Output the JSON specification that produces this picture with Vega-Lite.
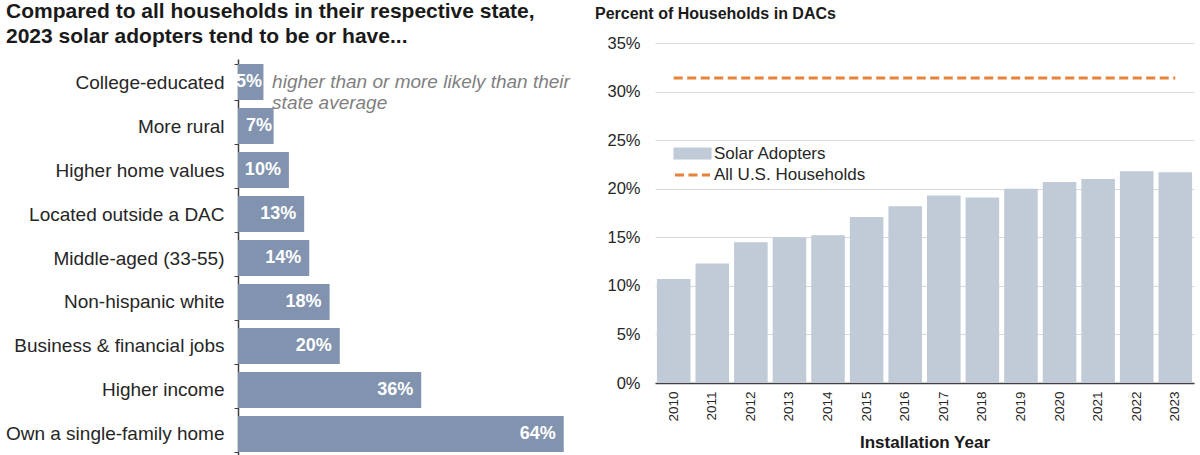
{
  "$schema": "https://vega.github.io/schema/vega-lite/v6.json",
  "background": "white",
  "padding": {"left": 5, "top": 1, "right": 5, "bottom": 0},
  "config": {"font": "Liberation Sans", "view": {"stroke": null}},
  "spacing": 16,
  "hconcat": [
    {
      "width": 341,
      "height": 414,
      "title": {
        "text": ["Compared to all households in their respective state,", "2023 solar adopters tend to be or have..."],
        "font": "Liberation Sans Narrow, Liberation Sans",
        "fontSize": 21,
        "fontWeight": "bold",
        "color": "#1a1a1a",
        "anchor": "start",
        "frame": "group",
        "dx": -232,
        "offset": -13,
        "lineHeight": 25
      },
      "layer": [
        {
          "data": {"values": [
            {"trait": "College-educated", "pct": 0.05},
            {"trait": "More rural", "pct": 0.07},
            {"trait": "Higher home values", "pct": 0.10},
            {"trait": "Located outside a DAC", "pct": 0.13},
            {"trait": "Middle-aged (33-55)", "pct": 0.14},
            {"trait": "Non-hispanic white", "pct": 0.18},
            {"trait": "Business & financial jobs", "pct": 0.20},
            {"trait": "Higher income", "pct": 0.36},
            {"trait": "Own a single-family home", "pct": 0.64}
          ]},
          "layer": [
            {
              "mark": {"type": "bar", "color": "#8193AE"},
              "encoding": {
                "y": {"field": "trait", "type": "nominal",
                  "scale": {"domain": ["College-educated","More rural","Higher home values","Located outside a DAC","Middle-aged (33-55)","Non-hispanic white","Business & financial jobs","Higher income","Own a single-family home"], "range": [16, 414], "paddingInner": 0.18, "paddingOuter": 0.114},
                  "axis": {"title": null, "labelFontSize": 19, "labelLimit": 0, "labelColor": "#262626", "domainColor": "#404040", "domainWidth": 1.5, "tickColor": "#404040", "tickBand": "extent", "tickSize": 4, "labelPadding": 10}},
                "x": {"field": "pct", "type": "quantitative", "scale": {"domain": [0, 0.67], "nice": false}, "axis": null}
              }
            },
            {
              "transform": [{"filter": "datum.pct >= 0.08"}],
              "mark": {"type": "text", "align": "right", "baseline": "middle", "dx": -8, "color": "white", "fontWeight": "bold", "fontSize": 18},
              "encoding": {
                "y": {"field": "trait", "type": "nominal"},
                "x": {"field": "pct", "type": "quantitative"},
                "text": {"field": "pct", "type": "quantitative", "format": ".0%"}
              }
            },
            {
              "transform": [{"filter": "datum.pct < 0.08"}],
              "mark": {"type": "text", "align": "right", "baseline": "middle", "dx": -1.5, "color": "white", "fontWeight": "bold", "fontSize": 18},
              "encoding": {
                "y": {"field": "trait", "type": "nominal"},
                "x": {"field": "pct", "type": "quantitative"},
                "text": {"field": "pct", "type": "quantitative", "format": ".0%"}
              }
            }
          ]
        },
        {
          "data": {"values": [{"trait": "College-educated", "pct": 0.067, "note": "higher than or more likely than their\nstate average"}]},
          "mark": {"type": "text", "align": "left", "baseline": "middle", "fontStyle": "italic", "fontSize": 19, "color": "#7f7f7f", "lineBreak": "\n", "lineHeight": 21},
          "encoding": {
            "y": {"field": "trait", "type": "nominal"},
            "x": {"field": "pct", "type": "quantitative"},
            "text": {"field": "note"}
          }
        }
      ]
    },
    {
      "width": 539,
      "height": 340,
      "title": {
        "text": "Percent of Households in DACs",
        "fontSize": 16,
        "fontWeight": "bold",
        "color": "#1a1a1a",
        "anchor": "start",
        "frame": "group",
        "dx": -60,
        "offset": 13.5
      },
      "data": {"values": [
        {"year": "2010", "series": "Solar Adopters", "share": 0.107},
        {"year": "2011", "series": "Solar Adopters", "share": 0.123},
        {"year": "2012", "series": "Solar Adopters", "share": 0.145},
        {"year": "2013", "series": "Solar Adopters", "share": 0.150},
        {"year": "2014", "series": "Solar Adopters", "share": 0.152},
        {"year": "2015", "series": "Solar Adopters", "share": 0.171},
        {"year": "2016", "series": "Solar Adopters", "share": 0.182},
        {"year": "2017", "series": "Solar Adopters", "share": 0.193},
        {"year": "2018", "series": "Solar Adopters", "share": 0.191},
        {"year": "2019", "series": "Solar Adopters", "share": 0.200},
        {"year": "2020", "series": "Solar Adopters", "share": 0.207},
        {"year": "2021", "series": "Solar Adopters", "share": 0.210},
        {"year": "2022", "series": "Solar Adopters", "share": 0.218},
        {"year": "2023", "series": "Solar Adopters", "share": 0.217},
        {"year": "2010", "series": "All U.S. Households", "share": 0.314},
        {"year": "2011", "series": "All U.S. Households", "share": 0.314},
        {"year": "2012", "series": "All U.S. Households", "share": 0.314},
        {"year": "2013", "series": "All U.S. Households", "share": 0.314},
        {"year": "2014", "series": "All U.S. Households", "share": 0.314},
        {"year": "2015", "series": "All U.S. Households", "share": 0.314},
        {"year": "2016", "series": "All U.S. Households", "share": 0.314},
        {"year": "2017", "series": "All U.S. Households", "share": 0.314},
        {"year": "2018", "series": "All U.S. Households", "share": 0.314},
        {"year": "2019", "series": "All U.S. Households", "share": 0.314},
        {"year": "2020", "series": "All U.S. Households", "share": 0.314},
        {"year": "2021", "series": "All U.S. Households", "share": 0.314},
        {"year": "2022", "series": "All U.S. Households", "share": 0.314},
        {"year": "2023", "series": "All U.S. Households", "share": 0.314}
      ]},
      "encoding": {
        "x": {"field": "year", "type": "ordinal",
          "scale": {"paddingInner": 0.13, "paddingOuter": 0.05},
          "axis": {"title": "Installation Year", "titleFontSize": 17, "titleFontWeight": "bold", "titleColor": "#1a1a1a", "titlePadding": 13, "labelAngle": -90, "labelFontSize": 13.5, "labelColor": "#262626", "labelPadding": 8, "ticks": false, "domainColor": "#404040", "domainWidth": 1.5}},
        "y": {"field": "share", "type": "quantitative",
          "scale": {"domain": [0, 0.35]},
          "axis": {"title": null, "format": ".0%", "values": [0, 0.05, 0.1, 0.15, 0.2, 0.25, 0.3, 0.35], "labelFontSize": 16.5, "labelColor": "#262626", "labelPadding": 15, "domain": false, "ticks": false, "gridColor": "#d9d9d9"}},
        "color": {"field": "series", "type": "nominal",
          "scale": {"domain": ["Solar Adopters", "All U.S. Households"], "range": ["#C1CAD7", "#E8823A"]},
          "legend": {
            "title": null, "orient": "none", "legendX": 444, "legendY": 100, "padding": 0,
            "labelFontSize": 17, "labelColor": "#262626", "labelOffset": 11,
            "symbolSize": 324, "rowPadding": 0.5,
            "encode": {"symbols": {"update": {
              "shape": {"signal": "datum.value === 'Solar Adopters' ? 'M-1.95,-0.5H1.95V0.5H-1.95Z' : 'M-1.95,0H1.95'"},
              "fill": {"signal": "datum.value === 'Solar Adopters' ? '#C1CAD7' : 'transparent'"},
              "stroke": {"signal": "datum.value === 'Solar Adopters' ? 'transparent' : '#E8823A'"},
              "strokeWidth": {"value": 3},
              "strokeDash": {"signal": "datum.value === 'Solar Adopters' ? [1, 0] : [9, 4.5]"},
              "opacity": {"value": 1}
            }}}
          }}
      },
      "layer": [
        {"transform": [{"filter": "datum.series === 'Solar Adopters'"}], "mark": {"type": "bar"}},
        {"transform": [{"filter": "datum.series === 'All U.S. Households'"}], "mark": {"type": "line", "strokeDash": [9, 4.5], "strokeWidth": 3}}
      ]
    }
  ]
}
